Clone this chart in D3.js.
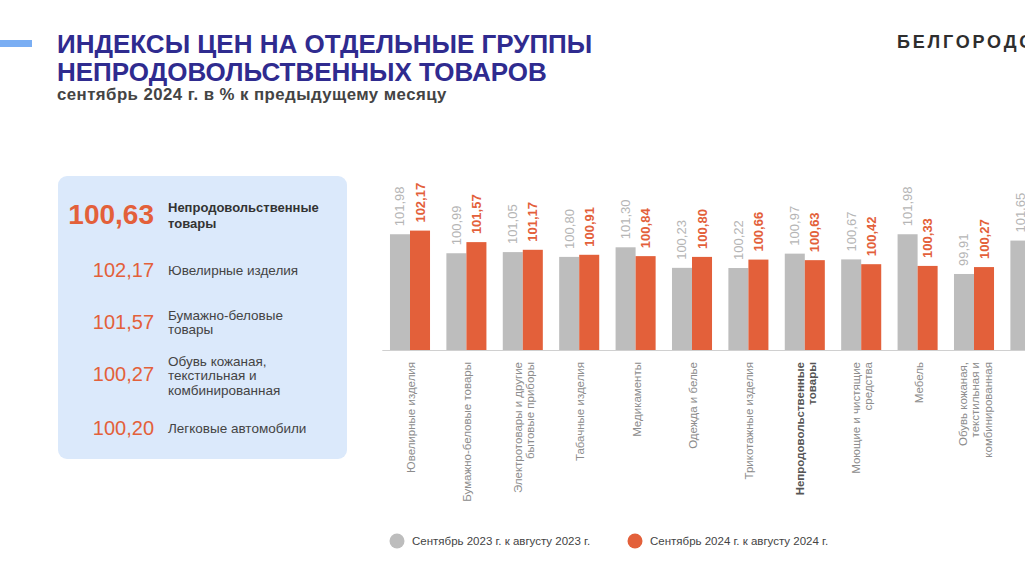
<!DOCTYPE html>
<html>
<head>
<meta charset="utf-8">
<script src="https://cdn.jsdelivr.net/npm/d3@7/dist/d3.min.js"></script>
<style>
html,body{margin:0;padding:0;background:#ffffff;overflow:hidden;}
svg{display:block;font-family:"Liberation Sans",Arial,sans-serif;}
</style>
</head>
<body>
<svg id="chart" width="1025" height="576"></svg>
<script>
// ---- data ----
const categories = [
  "Ювелирные изделия",
  "Бумажно-беловые товары",
  "Электротовары и другие\nбытовые приборы",
  "Табачные изделия",
  "Медикаменты",
  "Одежда и белье",
  "Трикотажные изделия",
  "Непродовольственные\nтовары",
  "Моющие и чистящие\nсредства",
  "Мебель",
  "Обувь кожаная,\nтекстильная и\nкомбинированная",
  "Легковые автомобили"
];
const values2023 = [101.98, 100.99, 101.05, 100.80, 101.30, 100.23, 100.22, 100.97, 100.67, 101.98, 99.91, 101.65];
const values2024 = [102.17, 101.57, 101.17, 100.91, 100.84, 100.80, 100.66, 100.63, 100.42, 100.33, 100.27, 100.20];
const seriesNames = ["Сентябрь 2023 г. к августу 2023 г.", "Сентябрь 2024 г. к августу 2024 г."];
const highlightCategory = "Непродовольственные\nтовары";

const panelValues = ["100,63", "102,17", "101,57", "100,27", "100,20"];
const panelLabels = [
  "Непродовольственные\nтовары",
  "Ювелирные изделия",
  "Бумажно-беловые\nтовары",
  "Обувь кожаная,\nтекстильная и\nкомбинированная",
  "Легковые автомобили"
];

const titleLines = ["ИНДЕКСЫ ЦЕН НА ОТДЕЛЬНЫЕ ГРУППЫ", "НЕПРОДОВОЛЬСТВЕННЫХ ТОВАРОВ"];
const subtitle = "сентябрь 2024 г. в % к предыдущему месяцу";
const brand = "БЕЛГОРОДСТАТ";

// ---- styles ----
const GRAY = "#bdbdbd", ORANGE = "#e3603a", TITLE = "#2f2b8f";
const fmt = v => v.toFixed(2).replace(".", ",");

const svg = d3.select("#chart");

// header
svg.append("rect").attr("x", 0).attr("y", 40).attr("width", 32).attr("height", 7).attr("fill", "#7aaef3");
svg.selectAll("text.title").data(titleLines).enter().append("text")
  .attr("class", "title")
  .attr("x", 57).attr("y", (d, i) => 53 + i * 28)
  .attr("font-size", 26).attr("font-weight", "bold").attr("fill", TITLE)
  .text(d => d);
svg.append("text").attr("x", 57).attr("y", 100)
  .attr("font-size", 16.8).attr("font-weight", "bold").attr("fill", "#444")
  .attr("letter-spacing", 0.45)
  .text(subtitle);
svg.append("text").attr("x", 897).attr("y", 48)
  .attr("font-size", 18).attr("font-weight", "bold").attr("fill", "#2e2e2e")
  .attr("letter-spacing", 2.8)
  .text(brand);

// left panel
svg.append("rect").attr("x", 58).attr("y", 176).attr("width", 289).attr("height", 283)
  .attr("rx", 9).attr("fill", "#dbe9fb");
const panelY = [224, 277, 329, 381, 435];
const pg = svg.append("g");
panelValues.forEach((v, i) => {
  pg.append("text").attr("x", 154).attr("y", panelY[i])
    .attr("text-anchor", "end")
    .attr("font-size", i === 0 ? 28 : 20)
    .attr("font-weight", i === 0 ? "bold" : "normal")
    .attr("fill", ORANGE)
    .text(v);
  const lines = panelLabels[i].split("\n");
  const lh = i === 0 ? 16 : 14.5;
  const fs = i === 0 ? 13 : 13.5;
  const y0 = i === 0 ? 212 : panelY[i] - 2 - (lines.length - 1) * lh / 2 + (lines.length > 2 ? 1 : 0);
  lines.forEach((l, j) => {
    pg.append("text").attr("x", 168).attr("y", y0 + j * lh)
      .attr("font-size", fs)
      .attr("font-weight", i === 0 ? "bold" : "normal")
      .attr("fill", i === 0 ? "#333" : "#444")
      .text(l);
  });
});

// chart
const baseY = 350;
const x = d3.scaleBand().domain(categories).range([381.8, 381.8 + 56.4 * 12])
  .paddingInner(0.29).paddingOuter(0.145);
const y = d3.scaleLinear().domain([95.95, 102.17]).range([baseY, baseY - 119.4]);
const bw = x.bandwidth() / 2;

const g = svg.append("g");
// bars
g.selectAll("rect.b23").data(categories).enter().append("rect")
  .attr("x", d => x(d)).attr("width", bw)
  .attr("y", (d, i) => y(values2023[i])).attr("height", (d, i) => baseY - y(values2023[i]))
  .attr("fill", GRAY);
g.selectAll("rect.b24").data(categories).enter().append("rect")
  .attr("x", d => x(d) + bw).attr("width", bw)
  .attr("y", (d, i) => y(values2024[i])).attr("height", (d, i) => baseY - y(values2024[i]))
  .attr("fill", ORANGE);

// axis line
const xAxis = d3.axisBottom(x).tickSize(0).tickFormat("");
g.append("g").attr("transform", `translate(0,${baseY})`).call(xAxis)
  .call(s => s.select(".domain").attr("stroke", "#d0d0d0").attr("stroke-width", 1.2));

// value labels
function valLabels(vals, offset, color, weight) {
  g.selectAll(null).data(categories).enter().append("text")
    .attr("transform", (d, i) => `translate(${x(d) + offset + bw / 2},${y(vals[i]) - 8}) rotate(-90)`)
    .attr("dominant-baseline", "central")
    .attr("font-size", 13).attr("font-weight", weight).attr("fill", color)
    .text((d, i) => fmt(vals[i]));
}
valLabels(values2023, 0, "#b5b5b5", "normal");
valLabels(values2024, bw, ORANGE, "bold");

// category labels
categories.forEach(c => {
  const lines = c.split("\n");
  const cx = x(c) + x.bandwidth() / 2;
  const hl = c === highlightCategory;
  lines.forEach((l, j) => {
    g.append("text")
      .attr("transform", `translate(${cx + (j - (lines.length - 1) / 2) * 12.5 + 1},362) rotate(-90)`)
      .attr("text-anchor", "end").attr("dominant-baseline", "central")
      .attr("font-size", 11.5).attr("font-weight", hl ? "bold" : "normal")
      .attr("fill", hl ? "#555" : "#8c8c8c")
      .text(l);
  });
});

// legend
const legX = [397, 635];
const legColors = [GRAY, ORANGE];
seriesNames.forEach((s, i) => {
  svg.append("circle").attr("cx", legX[i]).attr("cy", 541).attr("r", 7.5).attr("fill", legColors[i]);
  svg.append("text").attr("x", legX[i] + 15).attr("y", 545)
    .attr("font-size", 11.5).attr("fill", "#444").text(s);
});
</script>
</body>
</html>
